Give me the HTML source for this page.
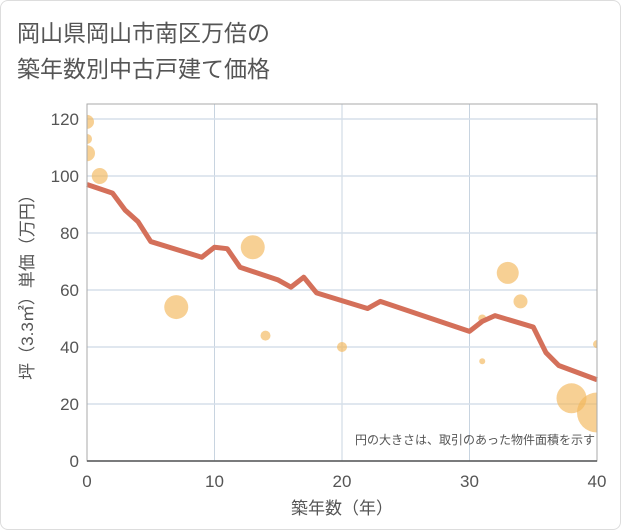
<!DOCTYPE html>
<html><head><meta charset="utf-8"><style>
body{margin:0;background:#fff;font-family:"Liberation Sans","Noto Sans CJK JP",sans-serif;}
#wrap{position:relative;width:621px;height:530px;border:1px solid #ddd;box-sizing:border-box;border-radius:8px;overflow:hidden}
</style></head><body>
<div id="wrap">
<svg id="chart" width="621" height="530" font-family="Liberation Sans, Noto Sans CJK JP, sans-serif">
<text x="16" y="40" font-size="23" fill="#555">岡山県岡山市南区万倍の</text>
<text x="16" y="76" font-size="23" fill="#555">築年数別中古戸建て価格</text>
<defs><clipPath id="pc"><rect x="86" y="103" width="510" height="357"/></clipPath></defs>
<g id="grid"></g><g id="bubbles" clip-path="url(#pc)"></g><g id="line"></g><g id="axes"></g>
<text x="594" y="443" font-size="12" fill="#555" text-anchor="end">円の大きさは、取引のあった物件面積を示す</text>
<text x="341" y="513" font-size="17" fill="#555" text-anchor="middle">築年数（年）</text>
<text transform="translate(32,282) rotate(-90)" font-size="17" fill="#555" text-anchor="middle">坪（3.3㎡）単価（万円）</text>
</svg></div>
<script>
const xTicks=[0,10,20,30,40];
const yTicks=[0,20,40,60,80,100,120];
const lineX=[0,2,3,4,5,9,10,11,12,15,16,17,18,22,23,30,31,32,35,36,37,40];
const lineY=[97,94,88,84,77,71.5,75,74.5,68,63.5,61,64.5,59,53.5,56,45.5,49,51,47,38,33.5,28.5];
const bubX=[0,0,0,1,7,13,14,20,31,31,33,34,40,38,40];
const bubY=[119,113,108,100,54,75,44,40,50,35,66,56,41,22,17];
const bubR=[7,5,8,8,12,12,5,5,4,3,11,7,4,15,20];
const NS="http://www.w3.org/2000/svg";
const sx=v=>86+v*12.75, sy=v=>460-v*2.85;
function mk(t,a,p){const e=document.createElementNS(NS,t);for(const k in a)e.setAttribute(k,a[k]);p.appendChild(e);return e;}
const g=document.getElementById('grid'),ax=document.getElementById('axes');
xTicks.forEach(v=>{const l=mk('line',{x1:sx(v),x2:sx(v),y1:103,y2:460,stroke:'#c8d4e0','stroke-width':1},g);

const t=mk('text',{x:sx(v),y:486,'font-size':17,fill:'#555','text-anchor':'middle'},ax);t.textContent=v;
});
yTicks.forEach(v=>{const l=mk('line',{x1:86,x2:596,y1:sy(v),y2:sy(v),stroke:'#d5dfea','stroke-width':1.5},g);

const t=mk('text',{x:78,y:sy(v)+6,'font-size':17,fill:'#555','text-anchor':'end'},ax);t.textContent=v;
});
const fr=mk('rect',{x:86,y:103,width:510,height:357,fill:'none',stroke:'#aaa','stroke-width':1},ax);

const bl=mk('line',{x1:86,x2:596,y1:460,y2:460,stroke:'#555','stroke-width':1.5},ax);

const b=document.getElementById('bubbles');
bubX.forEach((v,i)=>{const c=mk('circle',{cx:sx(v),cy:sy(bubY[i]),r:bubR[i],fill:'#f2b75a','fill-opacity':0.65},b);
});
const p=mk('polyline',{points:lineX.map((v,i)=>sx(v)+','+sy(lineY[i])).join(' '),fill:'none',stroke:'#d4705a','stroke-width':5,'stroke-linejoin':'round'},document.getElementById('line'));

</script></body></html>
